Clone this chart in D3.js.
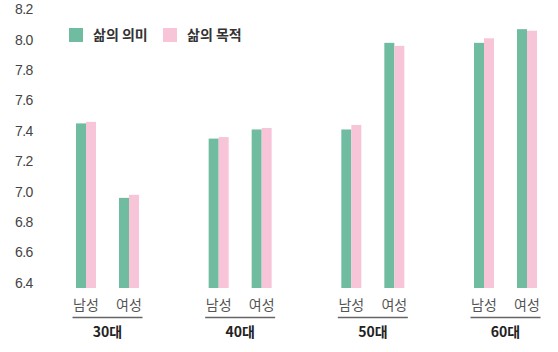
<!DOCTYPE html>
<html>
<head>
<meta charset="utf-8">
<script src="https://cdn.jsdelivr.net/npm/d3@7"></script>
<style>
  html, body { margin: 0; padding: 0; background: #fff; }
  svg { display: block; font-family: "Noto Sans CJK KR", "Noto Sans", sans-serif; }
</style>
</head>
<body>
<svg id="chart" width="558" height="352"></svg>
<script>
const ageGroups = ["30대", "40대", "50대", "60대"];
const genders = ["남성", "여성"];
const seriesNames = ["삶의 의미", "삶의 목적"];
// values per age group: [남성, 여성]
const meaningValues = [[7.45, 6.96], [7.35, 7.41], [7.41, 7.98], [7.98, 8.07]];
const purposeValues = [[7.46, 6.98], [7.36, 7.42], [7.44, 7.96], [8.01, 8.06]];
const yTicks = [6.4, 6.6, 6.8, 7.0, 7.2, 7.4, 7.6, 7.8, 8.0, 8.2];

const colors = ["#6fbca1", "#f8c5d8"];
const W = 558, H = 352;

const svg = d3.select("#chart").attr("viewBox", `0 0 ${W} ${H}`);

const data = [];
ageGroups.forEach((age, i) => {
    genders.forEach((g, j) => {
        data.push({ age, gender: g, series: seriesNames[0], value: meaningValues[i][j] });
        data.push({ age, gender: g, series: seriesNames[1], value: purposeValues[i][j] });
    });
});

// bars sit a touch below the 6.4 label, so the baseline is slightly under it
const y = d3.scaleLinear().domain([6.367, 8.2]).range([288, 9.4]);
const xGroup = d3.scalePoint().domain(ageGroups).range([107.5, 505.5]);
const xGender = d3.scalePoint().domain(genders).range([-21.5, 21.5]);
const xSeries = d3.scaleBand().domain(seriesNames).range([-10, 10]);
const color = d3.scaleOrdinal().domain(seriesNames).range(colors);

// y labels (no axis line)
svg.append("g").selectAll("text")
    .data(yTicks)
    .join("text")
    .attr("x", 15)
    .attr("y", d => y(d))
    .attr("dy", "0.35em")
    .attr("font-family", "'Liberation Sans', Arial, sans-serif")
    .attr("font-size", "14px")
    .attr("letter-spacing", "-0.6px")
    .attr("fill", "#444")
    .text(d => d.toFixed(1));

// bars
svg.append("g").selectAll("rect")
    .data(data)
    .join("rect")
    .attr("x", d => xGroup(d.age) + xGender(d.gender) + xSeries(d.series))
    .attr("width", xSeries.bandwidth())
    .attr("y", d => y(d.value))
    .attr("height", d => y.range()[0] - y(d.value))
    .attr("fill", d => color(d.series));

// x labels
const xl = svg.append("g");
ageGroups.forEach(age => {
    const cx = xGroup(age);
    genders.forEach(g => {
        xl.append("text")
            .attr("x", cx + xGender(g))
            .attr("y", 305)
            .attr("dy", "0.35em")
            .attr("text-anchor", "middle")
            .attr("font-size", "14px")
            .attr("fill", "#555")
            .text(g);
    });
    xl.append("line")
        .attr("x1", cx - 35).attr("x2", cx + 35)
        .attr("y1", 317.5).attr("y2", 317.5)
        .attr("stroke", "#666").attr("stroke-width", 1.3);
    xl.append("text")
        .attr("x", cx)
        .attr("y", 332)
        .attr("dy", "0.35em")
        .attr("text-anchor", "middle")
        .attr("font-size", "14px")
        .attr("font-weight", "bold")
        .attr("fill", "#222")
        .text(age);
});

// legend
const lg = svg.append("g").attr("transform", "translate(69, 28)");
seriesNames.forEach((s, i) => {
    const lx = i * 94;
    lg.append("rect").attr("x", lx).attr("y", 0).attr("width", 14).attr("height", 14)
        .attr("fill", color(s));
    lg.append("text").attr("x", lx + 24).attr("y", 7).attr("dy", "0.35em")
        .attr("font-size", "14px").attr("font-weight", "bold").attr("fill", "#333")
        .text(s);
});
</script>
</body>
</html>
